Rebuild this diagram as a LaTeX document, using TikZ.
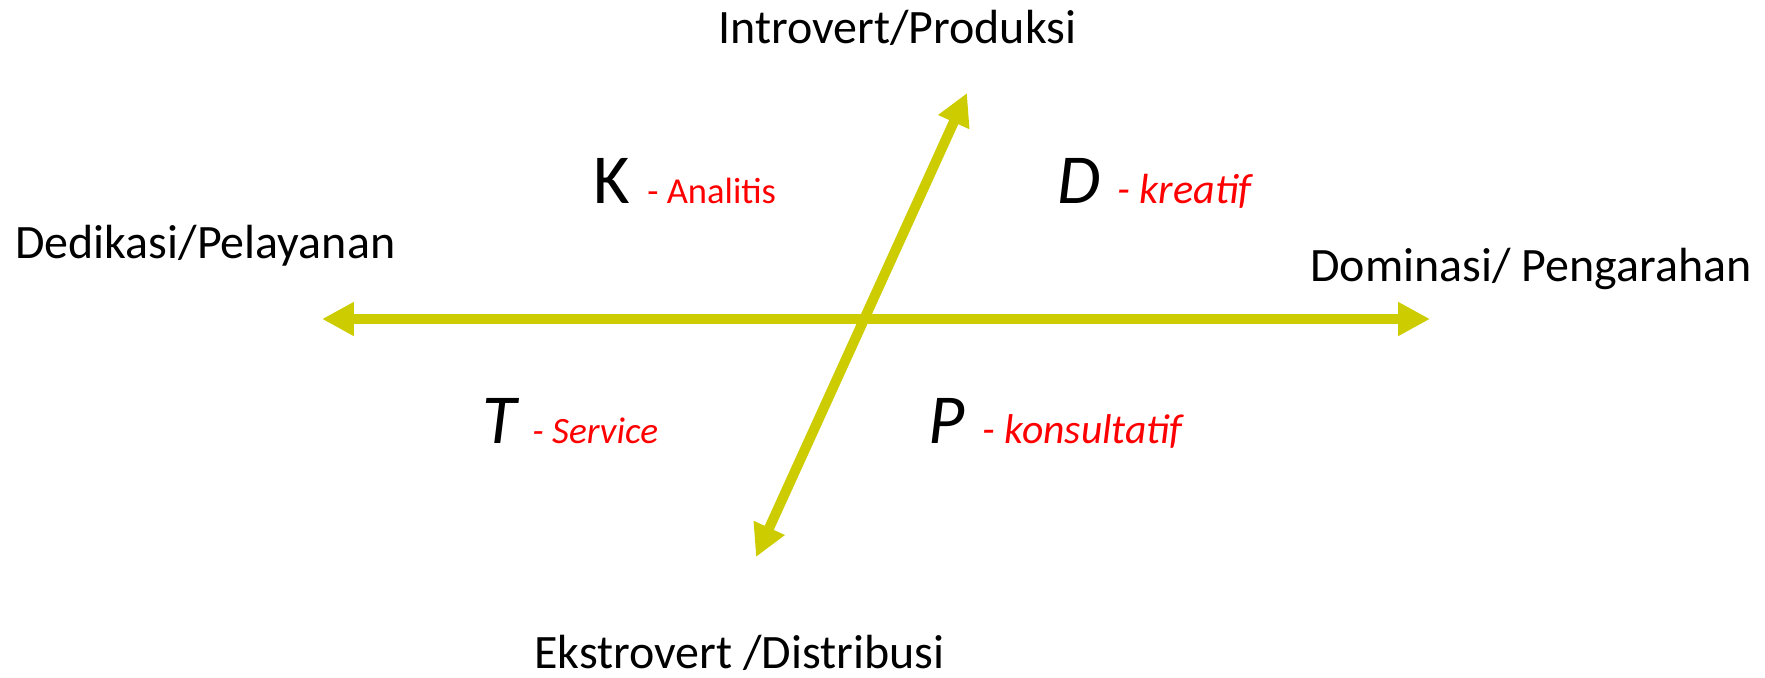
\documentclass[tikz,border=0pt]{standalone}
\usepackage{fontspec}
\setmainfont{Carlito}
\usetikzlibrary{arrows.meta,positioning}
\definecolor{axisyellow}{RGB}{204,204,0}
\definecolor{traitred}{RGB}{255,0,0}

\begin{document}
\begin{tikzpicture}[x=0.02cm, y=-0.02cm,
    axislabel/.style={inner sep=0pt, anchor=base west, font=\fontsize{27.3}{31}\selectfont},
    letter/.style={inner sep=0pt, anchor=base west, font=\fontsize{40}{46}\selectfont},
    trait/.style={inner sep=0pt, anchor=base west, text=traitred},
    axis/.style={line width=0.2cm, axisyellow, {Triangle[length=0.64cm,width=0.64cm]}-{Triangle[length=0.64cm,width=0.64cm]}}]
\useasboundingbox (0,0) rectangle (1765,677);

% Ends of the two axes
\coordinate (west) at (322,319);
\coordinate (east) at (1430,319);
\coordinate (north) at (967,93);
\coordinate (south) at (756,557);

% Draw the axes
\draw[axis] (west) -- (east);
\draw[axis] (south) -- (north);

% Axis labels
\node[axislabel] (introvert) at (718,43) {Introvert/Produksi};
\node[axislabel] (dedikasi) at (15,258) {Dedikasi/Pelayanan};
\node[axislabel] (dominasi) at (1310,281) {Dominasi/ Pengarahan};
\node[axislabel] (ekstrovert) at (534,668) {Ekstrovert /Distribusi};

% Quadrant letters with their traits
\foreach \id/\lx/\wx/\y/\word/\shape/\size in {K/593/647/203/Analitis/\upshape/20.8, D/1057/1117/203/kreatif/\itshape/24, T/482/532/443/Service/\itshape/21.2, P/928/982/443/konsultatif/\itshape/23.7} {
    \node[letter] (\id) at (\lx,\y) {\shape\id};
    \node[trait, font=\fontsize{\size}{\size}\selectfont] (\id-trait) at (\wx,\y) {\shape- \word};
}

\end{tikzpicture}
\end{document}
